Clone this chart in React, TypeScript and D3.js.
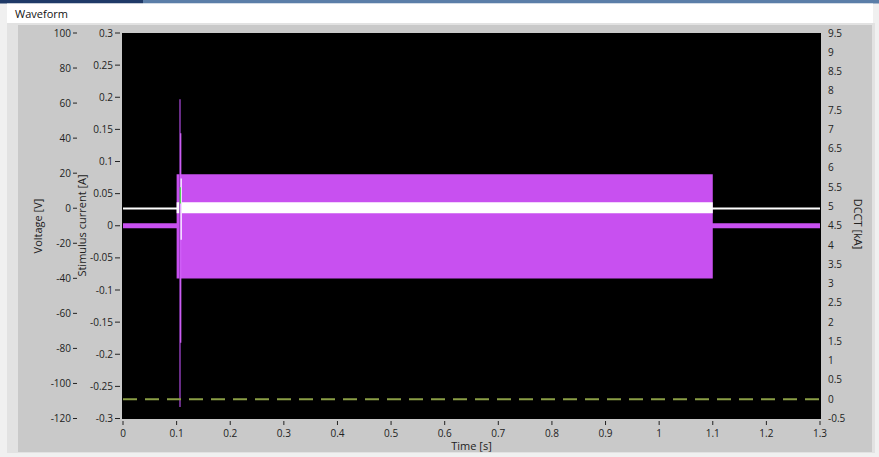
import React from "react";
import * as d3 from "d3";

// ---- data ----
const timeTicks = [0, 0.1, 0.2, 0.3, 0.4, 0.5, 0.6, 0.7, 0.8, 0.9, 1, 1.1, 1.2, 1.3];
const voltTicks = [100, 80, 60, 40, 20, 0, -20, -40, -60, -80, -100, -120];
const currTicks = [0.3, 0.25, 0.2, 0.15, 0.1, 0.05, 0, -0.05, -0.1, -0.15, -0.2, -0.25, -0.3];
const dcctTicks = [9.5, 9, 8.5, 8, 7.5, 7, 6.5, 6, 5.5, 5, 4.5, 4, 3.5, 3, 2.5, 2, 1.5, 1, 0.5, 0, -0.5];

// Stimulus current envelope [A]
const stimT = [0, 0.1, 0.1, 1.1, 1.1, 1.3];
const stimHi = [0.004, 0.004, 0.08, 0.08, 0.004, 0.004];
const stimLo = [-0.004, -0.004, -0.082, -0.082, -0.004, -0.004];

// Voltage envelope [V]
const voltT = [0, 0.1, 0.1, 1.1, 1.1, 1.3];
const voltHi = [0.4, 0.4, 3.4, 3.4, 0.4, 0.4];
const voltLo = [-0.7, -0.7, -2.9, -2.9, -0.7, -0.7];

// Artifact spike at stimulus onset
const spikeT = [0.1063];
const spikeOuterHi = [0.197]; // A
const spikeOuterLo = [-0.282];
const spikeInnerHi = [0.144];
const spikeInnerLo = [-0.182];
const spikeVoltHi = [17]; // V
const spikeVoltLo = [-18];
const spikeDcctHi = [5.5]; // kA
const spikeDcctLo = [5.08];

// DCCT [kA]
const dcctT = [0, 1.3];
const dcctV = [0, 0];

const fmt = (v: number) => String(+v.toFixed(2));

export default function App() {
  const W = 879, H = 457;
  const x = d3.scaleLinear().domain([0, 1.3]).range([123, 820]);
  const yI = d3.scaleLinear().domain([-0.3, 0.3]).range([418.5, 33]);
  const yV = d3.scaleLinear().domain([-120, 100]).range([418.5, 33]);
  const yD = d3.scaleLinear().domain([-0.5, 9.5]).range([418.5, 33]);

  const stimArea = d3
    .area<number>()
    .x((_, i) => x(stimT[i]))
    .y0((_, i) => yI(stimLo[i]))
    .y1((_, i) => yI(stimHi[i]))(stimT) as string;
  const voltArea = d3
    .area<number>()
    .x((_, i) => x(voltT[i]))
    .y0((_, i) => yV(voltLo[i]))
    .y1((_, i) => yV(voltHi[i]))(voltT) as string;
  const dcctLine = d3
    .line<number>()
    .x((_, i) => x(dcctT[i]))
    .y((_, i) => yD(dcctV[i]))(dcctT) as string;

  const font = "'Open Sans', 'Noto Sans', sans-serif";
  const txt = "#222";

  return (
    <svg
      width={W}
      height={H}
      style={{ position: "absolute", left: 0, top: 0, display: "block" }}
      fontFamily={font}
    >
      <rect x={0} y={0} width={W} height={H} fill="#f0f0f0" />
      <rect x={0} y={0} width={143} height={3.5} fill="#1f3a68" />
      <rect x={143} y={0} width={W - 143} height={3.5} fill="#5b7ea8" />
      <rect x={7} y={3.5} width={866} height={20} fill="#ffffff" />
      <text x={15} y={18} fontSize={11} fill="#111">Waveform</text>
      <rect x={7} y={23} width={868} height={430} fill="#e2e2e2" />
      <rect x={18} y={25} width={854} height={427} fill="#c9c9c9" />

      {/* plot area */}
      <rect x={122} y={33} width={699} height={386} fill="#000" />
      <g>
        <path d={stimArea} fill="#c850f0" />
        <path d={voltArea} fill="#ffffff" />
        {spikeT.map((t, i) => (
          <g key={i}>
            <line x1={x(t)} x2={x(t)} y1={yI(spikeOuterHi[i])} y2={yI(spikeOuterLo[i])} stroke="#8c3cb4" strokeWidth={1.5} />
            <line x1={x(t) + 0.7} x2={x(t) + 0.7} y1={yI(spikeInnerHi[i])} y2={yI(spikeInnerLo[i])} stroke="#d060f8" strokeWidth={1.3} />
            <line x1={x(t) + 1.2} x2={x(t) + 1.2} y1={yV(spikeVoltHi[i])} y2={yV(spikeVoltLo[i])} stroke="#f4e4ff" strokeWidth={1.5} />
            <line x1={x(t) + 0.3} x2={x(t) + 0.3} y1={yD(spikeDcctHi[i])} y2={yD(spikeDcctLo[i])} stroke="#40e040" strokeWidth={1.2} />
          </g>
        ))}
        <path d={dcctLine} fill="none" stroke="#8a9e45" strokeWidth={2} strokeDasharray="14 8" />
      </g>

      {/* voltage axis */}
      {voltTicks.map((v) => (
        <g key={"v" + v}>
          <text x={71} y={yV(v)} dy="0.35em" textAnchor="end" fontSize={10} fill={txt}>{v}</text>
          <line x1={73} x2={77} y1={yV(v)} y2={yV(v)} stroke={txt} strokeWidth={1} />
        </g>
      ))}
      {/* current axis */}
      {currTicks.map((v) => (
        <g key={"c" + v}>
          <text x={113} y={yI(v)} dy="0.35em" textAnchor="end" fontSize={10} fill={txt}>{fmt(v)}</text>
          <line x1={115} x2={120} y1={yI(v)} y2={yI(v)} stroke={txt} strokeWidth={1} />
        </g>
      ))}
      {/* DCCT axis */}
      {dcctTicks.map((v) => (
        <text key={"d" + v} x={828} y={yD(v)} dy="0.35em" textAnchor="start" fontSize={10} fill={txt}>{fmt(v)}</text>
      ))}
      {/* time axis */}
      {timeTicks.map((v) => (
        <g key={"t" + v}>
          <line x1={x(v)} x2={x(v)} y1={421} y2={425} stroke={txt} strokeWidth={1} />
          <text x={x(v)} y={437} textAnchor="middle" fontSize={10} fill={txt}>{fmt(v)}</text>
        </g>
      ))}

      <text x={471.5} y={452} textAnchor="middle" fontSize={11} fill={txt} dy="-0.2em">Time [s]</text>
      <text transform="translate(42,226) rotate(-90)" textAnchor="middle" fontSize={11} fill={txt}>Voltage [V]</text>
      <text transform="translate(85.5,225.5) rotate(-90)" textAnchor="middle" fontSize={11} fill={txt}>Stimulus current [A]</text>
      <text transform="translate(853.5,224) rotate(90)" textAnchor="middle" fontSize={11} fill={txt}>DCCT [kA]</text>
    </svg>
  );
}
